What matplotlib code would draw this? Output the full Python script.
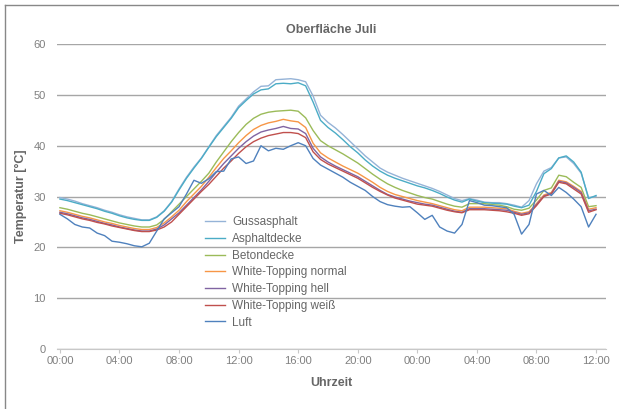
import numpy as np
import matplotlib
matplotlib.use("Agg")
import matplotlib.pyplot as plt
from matplotlib.lines import Line2D

# time in hours since 00:00 of day 1, half-hour steps
hours = np.arange(0, 36.5, 0.5)

gussasphalt = [29.8, 29.5, 29.1, 28.6, 28.2, 27.8, 27.3, 26.9, 26.4, 26.0, 25.7, 25.4, 25.4, 26.0,
               27.2, 29.0, 31.5, 33.8, 35.8, 37.6, 39.8, 42.0, 43.8, 45.6, 47.8, 49.2, 50.6, 51.7,
               51.8, 53.0, 53.1, 53.2, 53.0, 52.6, 49.8, 46.0, 44.6, 43.5, 42.2, 40.8, 39.4, 38.0,
               36.8, 35.6, 34.8, 34.2, 33.6, 33.1, 32.6, 32.1, 31.6, 31.0, 30.3, 29.6, 29.2, 29.6,
               29.3, 28.9, 28.8, 28.8, 28.6, 28.3, 27.9, 29.2, 32.5, 35.0, 35.7, 37.6, 37.8, 36.5,
               34.6, 29.8, 30.0]
asphaltdecke = [29.5, 29.2, 28.8, 28.4, 28.0, 27.6, 27.1, 26.7, 26.2, 25.8, 25.5, 25.3, 25.3, 25.9,
                27.1, 28.9, 31.3, 33.6, 35.6, 37.5, 39.7, 41.8, 43.6, 45.4, 47.5, 48.9, 50.2, 51.0,
                51.2, 52.2, 52.3, 52.2, 52.4, 51.8, 48.6, 45.0, 43.6, 42.5, 41.2, 39.8, 38.6, 37.2,
                36.0, 35.0, 34.2, 33.6, 33.1, 32.6, 32.1, 31.7, 31.2, 30.6, 29.9, 29.3, 28.9, 29.5,
                29.1, 28.8, 28.7, 28.6, 28.5, 28.1, 27.8, 28.3, 31.0, 34.5, 35.5, 37.6, 38.0, 36.8,
                34.8, 29.6, 30.2]
betondecke = [27.8, 27.5, 27.1, 26.7, 26.4, 26.0, 25.6, 25.2, 24.8, 24.5, 24.2, 24.0, 24.0, 24.4,
              25.5, 27.0, 28.5, 30.0, 31.5, 33.0, 34.6, 36.8, 38.8, 40.8, 42.6, 44.2, 45.4, 46.2,
              46.6, 46.8, 46.9, 47.0, 46.8, 45.5, 43.0, 41.0, 40.0, 39.2, 38.4, 37.5, 36.6, 35.5,
              34.4, 33.4, 32.5, 31.8, 31.2, 30.7, 30.2, 29.8, 29.5, 29.0, 28.5, 28.1, 27.9, 28.6,
              28.6, 28.6, 28.4, 28.3, 28.0, 27.5, 27.3, 27.7, 29.3, 31.2, 31.7, 34.2, 33.9, 32.8,
              31.8, 28.0, 28.2]
wt_normal = [27.2, 26.9, 26.5, 26.1, 25.8, 25.4, 25.0, 24.7, 24.3, 24.0, 23.7, 23.5, 23.5, 23.9,
             24.8, 26.0, 27.3, 29.0, 30.5, 32.0, 33.8, 35.7, 37.5, 39.0, 40.6, 42.0, 43.2, 44.0,
             44.5, 44.8, 45.2, 44.9, 44.7, 43.6, 40.5, 38.6, 37.6, 36.8, 36.0, 35.3, 34.6, 33.7,
             32.8, 31.8, 31.0, 30.4, 30.0, 29.6, 29.2, 28.9, 28.6, 28.2, 27.8, 27.4, 27.2, 27.9,
             27.9, 27.9, 27.8, 27.7, 27.6, 27.1, 26.7, 27.0, 28.6, 30.3, 30.8, 33.2, 32.9, 32.0,
             31.0, 27.5, 27.8]
wt_hell = [26.9, 26.6, 26.2, 25.8, 25.5, 25.1, 24.7, 24.4, 24.0, 23.7, 23.4, 23.2, 23.2, 23.6,
           24.4, 25.6, 26.8, 28.3, 29.8, 31.3, 33.0, 34.8, 36.5, 38.0, 39.5, 40.8, 41.9, 42.7,
           43.1, 43.4, 43.8, 43.4, 43.3, 42.4, 39.5, 37.8, 36.8, 36.0, 35.3, 34.6, 33.9, 33.0,
           32.1, 31.2, 30.4, 29.9, 29.5, 29.1, 28.8, 28.5, 28.3, 27.9, 27.5, 27.1, 26.9, 27.6,
           27.6, 27.6, 27.5, 27.4, 27.3, 26.9, 26.5, 26.8, 28.4, 30.1, 30.6, 33.0, 32.7, 31.8,
           30.8, 27.2, 27.5]
wt_weiss = [26.7, 26.4, 26.0, 25.6, 25.3, 24.9, 24.6, 24.2, 23.9, 23.6, 23.3, 23.1, 23.1, 23.4,
            24.0, 25.0, 26.5, 28.0, 29.5, 31.0, 32.4, 34.0, 35.6, 37.0, 38.5, 39.8, 40.8, 41.5,
            42.0, 42.3, 42.6, 42.6, 42.4, 41.6, 38.8, 37.3, 36.4, 35.7, 35.0, 34.3, 33.6, 32.7,
            31.8, 31.0, 30.3, 29.7, 29.3, 28.9, 28.5, 28.3, 28.1, 27.7, 27.3, 27.0, 26.8, 27.4,
            27.4, 27.4, 27.3, 27.2, 27.0, 26.7, 26.3, 26.6, 28.2, 30.0, 30.5, 32.8, 32.5, 31.5,
            30.5, 26.9, 27.4]
luft = [26.5, 25.6, 24.5, 24.0, 23.8, 22.8, 22.3, 21.2, 21.0, 20.7, 20.3, 20.1, 20.8, 23.2,
        25.6, 26.8, 28.0, 30.5, 33.2, 32.6, 33.5, 34.9, 35.0, 37.4, 37.8, 36.5, 37.0, 40.0,
        39.0, 39.5, 39.3, 40.0, 40.6, 40.0, 37.5, 36.2, 35.4, 34.6, 33.8, 32.8, 32.0, 31.2,
        30.0, 29.0, 28.4, 28.1, 27.9, 28.0, 26.8, 25.5, 26.3, 24.0, 23.2, 22.8, 24.5, 29.2,
        28.8, 28.3, 28.2, 28.0, 27.8, 26.5, 22.6, 24.5, 30.5, 31.2, 30.2, 31.8, 30.8, 29.5,
        28.0, 24.0, 26.5]

series = [
    ("Gussasphalt", gussasphalt, "#95b3d7"),
    ("Asphaltdecke", asphaltdecke, "#4bacc6"),
    ("Betondecke", betondecke, "#9bbb59"),
    ("White-Topping normal", wt_normal, "#f79646"),
    ("White-Topping hell", wt_hell, "#8064a2"),
    ("White-Topping weiß", wt_weiss, "#c0504d"),
    ("Luft", luft, "#4f81bd"),
]

tick_pos = np.arange(0, 37, 4)
tick_labels = ["00:00", "04:00", "08:00", "12:00", "16:00", "20:00",
               "00:00", "04:00", "08:00", "12:00"]

plt.rcParams['font.family'] = ['Liberation Sans', 'DejaVu Sans']
txt = "#666666"

fig = plt.figure(figsize=(6.19, 4.09), dpi=100)
ax = fig.add_axes([0.092, 0.147, 0.887, 0.745])

for name, vals, col in series:
    ax.plot(hours, vals, color=col, lw=1.0, label=name)

ax.set_xlim(-0.2, 36.67)
ax.set_ylim(0, 60)
ax.set_yticks(np.arange(0, 61, 10))
ax.set_xticks(tick_pos)
ax.set_xticklabels(tick_labels)
ax.grid(axis="y", color="#a6a6a6", lw=1.0)
ax.set_axisbelow(True)
for s in ["top", "right", "left"]:
    ax.spines[s].set_visible(False)
ax.spines["bottom"].set_color("#c8c8c8")
ax.tick_params(axis="y", length=0, labelsize=8, labelcolor="#808080", pad=8)
ax.tick_params(axis="x", length=3, color="#c8c8c8", labelsize=8, labelcolor="#808080", pad=2)

ax.set_title("Oberfläche Juli", fontsize=9, fontweight="bold", color=txt, pad=8)
ax.set_xlabel("Uhrzeit", fontsize=9, fontweight="bold", color=txt, labelpad=8)
ax.set_ylabel("Temperatur [°C]", fontsize=9, fontweight="bold", color=txt, labelpad=5)

leg = ax.legend(loc="upper left", bbox_to_anchor=(0.25, 0.47), frameon=False,
                fontsize=8.5, labelspacing=0.4, handlelength=1.7, handletextpad=0.6)
for t in leg.get_texts():
    t.set_color(txt)

# outer frame (left and top edges visible)
fig.add_artist(Line2D([0.008, 0.008], [0, 0.988], transform=fig.transFigure, color="#888888", lw=1))
fig.add_artist(Line2D([0.008, 1], [0.988, 0.988], transform=fig.transFigure, color="#888888", lw=1))

fig.savefig("out.png", dpi=100)
